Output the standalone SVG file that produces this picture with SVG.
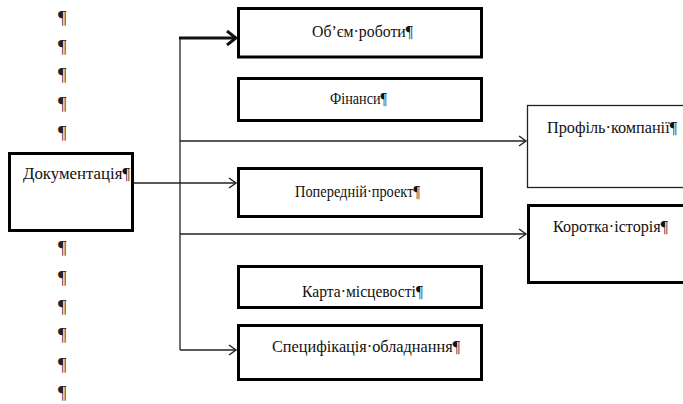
<svg xmlns="http://www.w3.org/2000/svg" width="683" height="404" viewBox="0 0 683 404">
<style>
.box{fill:#fff;stroke:#000;stroke-width:3}
.thin{fill:#fff;stroke:#222;stroke-width:1.3}
.lbl{font-family:'Liberation Serif','Times New Roman',serif;font-size:17.5px;fill:#111}
.pil{font-family:'Liberation Serif','Times New Roman',serif;font-size:19px;fill:#222}
.ln{fill:none;stroke:#222;stroke-width:1.3}
.thk{fill:none;stroke:#111;stroke-width:3}
</style>
<defs>
<marker id="a" markerWidth="12" markerHeight="12" refX="9" refY="6" orient="auto" markerUnits="userSpaceOnUse">
<path d="M2,1 L9,6 L2,11" fill="none" stroke="#222" stroke-width="1.4"/>
</marker>
<marker id="ab" markerWidth="14" markerHeight="16" refX="12" refY="8" orient="auto" markerUnits="userSpaceOnUse">
<path d="M3,1 L12,8 L3,15" fill="none" stroke="#111" stroke-width="3"/>
</marker>
</defs>
<rect width="683" height="404" fill="#fff"/>
<g id="pilcrows" class="pil">
<text x="58" y="24">¶</text>
<text x="58" y="53">¶</text>
<text x="58" y="81">¶</text>
<text x="58" y="110">¶</text>
<text x="58" y="139">¶</text>
<text x="58" y="254">¶</text>
<text x="58" y="284">¶</text>
<text x="58" y="313">¶</text>
<text x="58" y="341">¶</text>
<text x="58" y="371">¶</text>
<text x="58" y="399">¶</text>
</g>
<g id="connectors">
<line class="ln" x1="180" y1="38" x2="180" y2="350"/>
<line class="thk" x1="179" y1="38" x2="236" y2="38" marker-end="url(#ab)"/>
<line class="ln" x1="180" y1="141" x2="526" y2="141" marker-end="url(#a)"/>
<line class="ln" x1="134" y1="183" x2="236" y2="183" marker-end="url(#a)"/>
<line class="ln" x1="180" y1="234" x2="526" y2="234" marker-end="url(#a)"/>
<line class="ln" x1="180" y1="350" x2="236" y2="350" marker-end="url(#a)"/>
</g>
<g id="doc">
<rect class="box" x="9.5" y="153.5" width="123" height="77"/>
<text class="lbl" x="23" y="179" textLength="107" lengthAdjust="spacingAndGlyphs">Документація¶</text>
</g>
<g id="obsyag">
<rect class="box" x="238.5" y="8.5" width="243" height="48.5"/>
<text class="lbl" x="312" y="37" textLength="101" lengthAdjust="spacingAndGlyphs">Об’єм·роботи¶</text>
</g>
<g id="finansy">
<rect class="box" x="238.5" y="78.5" width="243" height="42"/>
<text class="lbl" x="330" y="104" textLength="57" lengthAdjust="spacingAndGlyphs">Фінанси¶</text>
</g>
<g id="proekt">
<rect class="box" x="238.5" y="168.5" width="243" height="48"/>
<text class="lbl" x="295" y="197" textLength="125" lengthAdjust="spacingAndGlyphs">Попередній·проект¶</text>
</g>
<g id="karta">
<rect class="box" x="238.5" y="266.5" width="243" height="41"/>
<text class="lbl" x="302" y="297" textLength="121" lengthAdjust="spacingAndGlyphs">Карта·місцевості¶</text>
</g>
<g id="spec">
<rect class="box" x="238.5" y="325.5" width="243" height="54"/>
<text class="lbl" x="272" y="352" textLength="188" lengthAdjust="spacingAndGlyphs">Специфікація·обладнання¶</text>
</g>
<g id="profil">
<rect class="thin" x="527.5" y="105.5" width="170" height="82"/>
<text class="lbl" x="547" y="133" textLength="130" lengthAdjust="spacingAndGlyphs">Профіль·компанії¶</text>
</g>
<g id="istoriya">
<rect class="box" x="528.5" y="205.5" width="170" height="77"/>
<text class="lbl" x="553" y="232" textLength="115" lengthAdjust="spacingAndGlyphs">Коротка·історія¶</text>
</g>
</svg>
